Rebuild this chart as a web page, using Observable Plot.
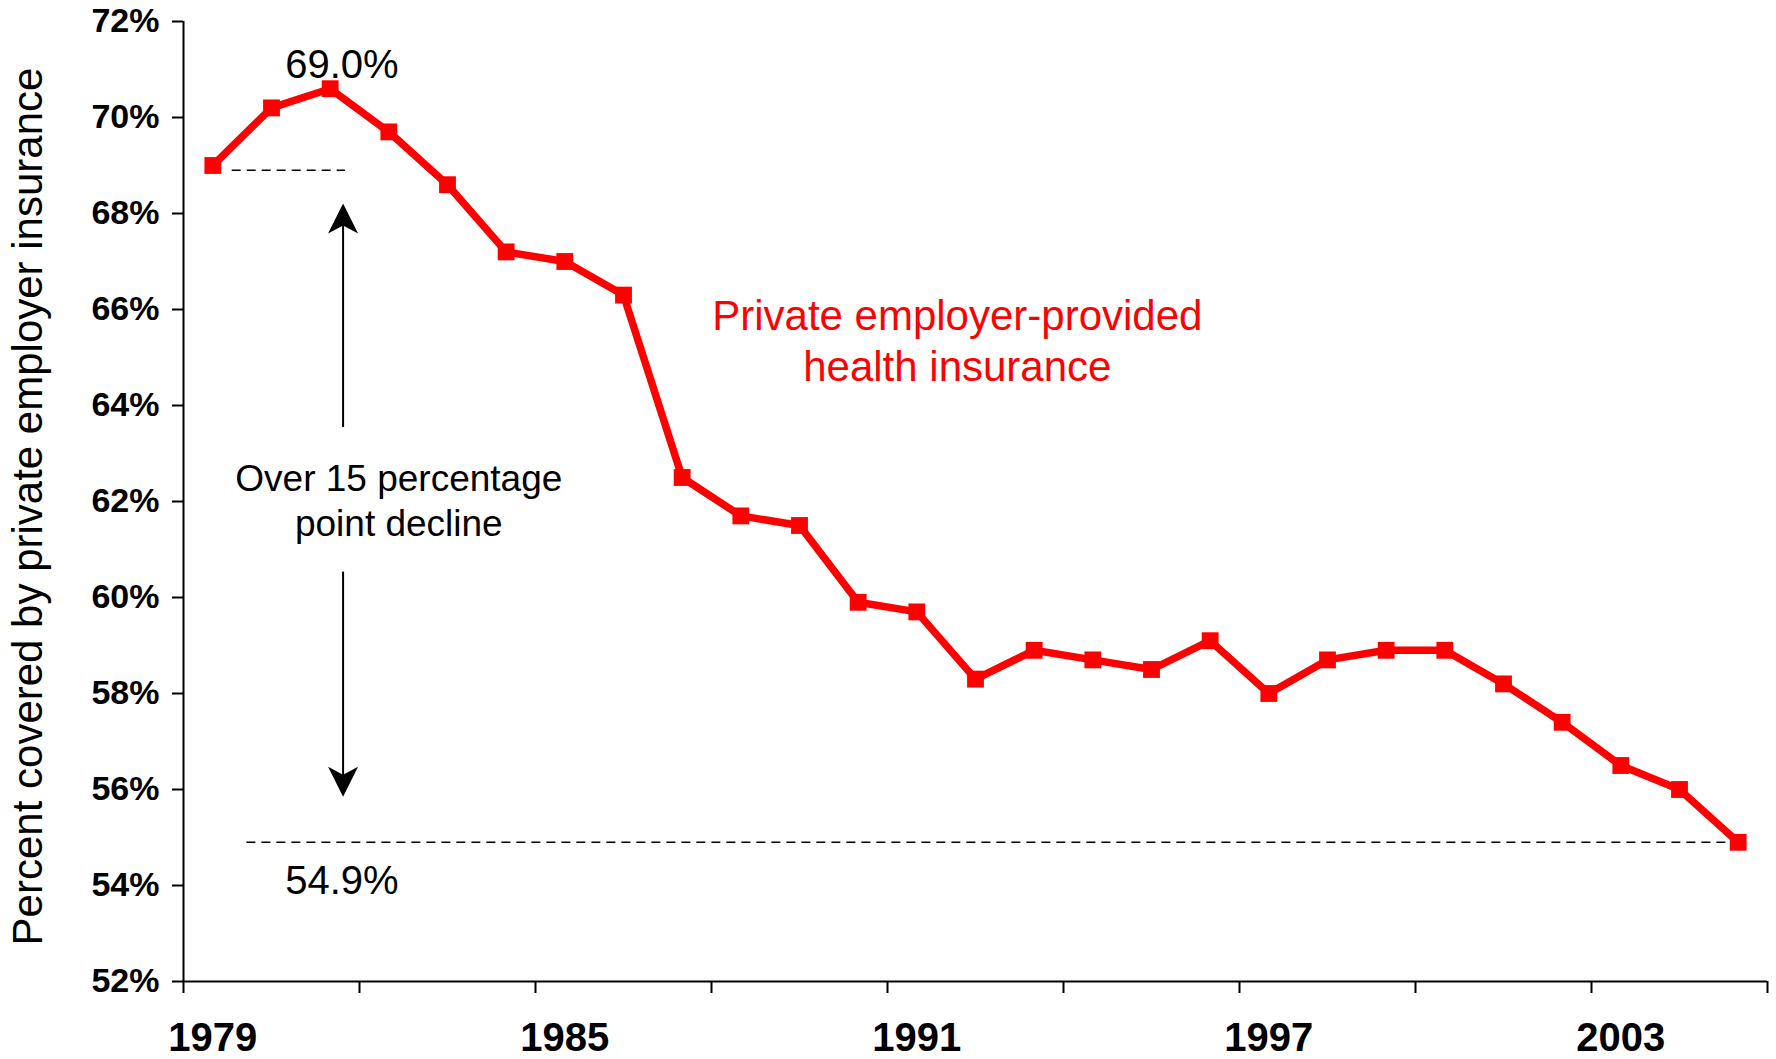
<!DOCTYPE html>
<html>
<head>
<meta charset="utf-8">
<script src="https://cdn.jsdelivr.net/npm/d3@7"></script>
<script src="https://cdn.jsdelivr.net/npm/@observablehq/plot@0.6"></script>
<style>
  html, body { margin: 0; padding: 0; background: #fff; }
  #chart svg { display: block; }
</style>
</head>
<body>
<div id="chart"></div>
<script>
// ---- data ----
const years = d3.range(1979, 2006);
const coverage = [69.0, 70.2, 70.6, 69.7, 68.6, 67.2, 67.0, 66.3, 62.5, 61.7, 61.5, 59.9, 59.7, 58.3, 58.9, 58.7, 58.5, 59.1, 58.0, 58.7, 58.9, 58.9, 58.2, 57.4, 56.5, 56.0, 54.9];
const yTicks = [52, 54, 56, 58, 60, 62, 64, 66, 68, 70, 72];
const xTickYears = [1978.5, 1981.5, 1984.5, 1987.5, 1990.5, 1993.5, 1996.5, 1999.5, 2002.5, 2005.5];
const xLabelYears = [1979, 1985, 1991, 1997, 2003];
const yTitle = "Percent covered by private employer insurance";
const seriesLabel = "Private employer-provided\nhealth insurance";
const declineLabel = "Over 15 percentage\npoint decline";
// reference levels (data units)
const refLines = [
  {x1: 1979.33, x2: 1981.26, y: 68.9},
  {x1: 1979.58, x2: 2005.0, y: 54.9}
];
const valueLabels = [
  {x: 1981.2, y: 71.1, text: "69.0%"},
  {x: 1981.2, y: 54.1, text: "54.9%"}
];
const arrowShafts = [
  {x: 1981.22, y1: 63.54, y2: 67.9},
  {x: 1981.22, y1: 60.53, y2: 56.15}
];
const arrowHeads = [
  {x: 1981.22, y: 68.21, rot: 0},
  {x: 1981.22, y: 55.85, rot: 180}
];

const data = years.map((year, i) => ({year, value: coverage[i]}));

// stealth arrowhead: tip at origin pointing up
const stealth = {
  draw(ctx) {
    ctx.moveTo(0, 0);
    ctx.lineTo(15, 30);
    ctx.lineTo(0, 22);
    ctx.lineTo(-15, 30);
    ctx.closePath();
  }
};

const font = "'Liberation Sans', Arial, Helvetica, sans-serif";

const chart = Plot.plot({
  width: 1776,
  height: 1059,
  marginLeft: 183,
  marginRight: 9,
  marginTop: 21,
  marginBottom: 78,
  style: {fontFamily: font, background: "#fff", color: "#000"},
  x: {domain: [1978.5, 2005.5]},
  y: {domain: [52, 72]},
  marks: [
    Plot.axisY({ticks: yTicks, tickFormat: d => d + "%", tickSize: 11, tickPadding: 13,
      fontSize: 34, fontWeight: "bold", strokeWidth: 2, label: null}),
    Plot.axisX({ticks: xTickYears, tickFormat: () => "", tickSize: 12, strokeWidth: 2, label: null}),
    Plot.axisX({ticks: xLabelYears, tickFormat: d => String(d), tickSize: 0, tickPadding: 41,
      fontSize: 40, fontWeight: "bold", label: null}),
    Plot.ruleX([1978.5], {y1: 52, y2: 72, stroke: "#000", strokeWidth: 2}),
    Plot.ruleY([52], {x1: 1978.5, x2: 2005.5, stroke: "#000", strokeWidth: 2}),
    Plot.ruleY(refLines, {x1: "x1", x2: "x2", y: "y", stroke: "#000", strokeWidth: 1.5, strokeDasharray: "9,6"}),
    Plot.ruleX(arrowShafts, {x: "x", y1: "y1", y2: "y2", stroke: "#000", strokeWidth: 2}),
    Plot.dot(arrowHeads, {x: "x", y: "y", rotate: "rot", symbol: stealth, fill: "#000", stroke: "none", r: 10}),
    Plot.line(data, {x: "year", y: "value", stroke: "#ff0000", strokeWidth: 7.5, strokeLinejoin: "miter"}),
    Plot.dot(data, {x: "year", y: "value", symbol: "square", fill: "#ff0000", stroke: "none", r: 9.5}),
    Plot.text(valueLabels, {x: "x", y: "y", text: "text", fontSize: 40, fill: "#000"}),
    Plot.text([declineLabel], {x: 1982.17, y: 62.05, fontSize: 37, lineHeight: 1.2, fill: "#000"}),
    Plot.text([seriesLabel], {x: 1991.69, y: 65.38, fontSize: 42, lineHeight: 1.2, fill: "#ff0000"}),
    Plot.text([yTitle], {frameAnchor: "left", textAnchor: "middle", rotate: -90, dx: -155, dy: 5, fontSize: 42, fill: "#000"})
  ]
});
document.getElementById("chart").appendChild(chart);
</script>
</body>
</html>
